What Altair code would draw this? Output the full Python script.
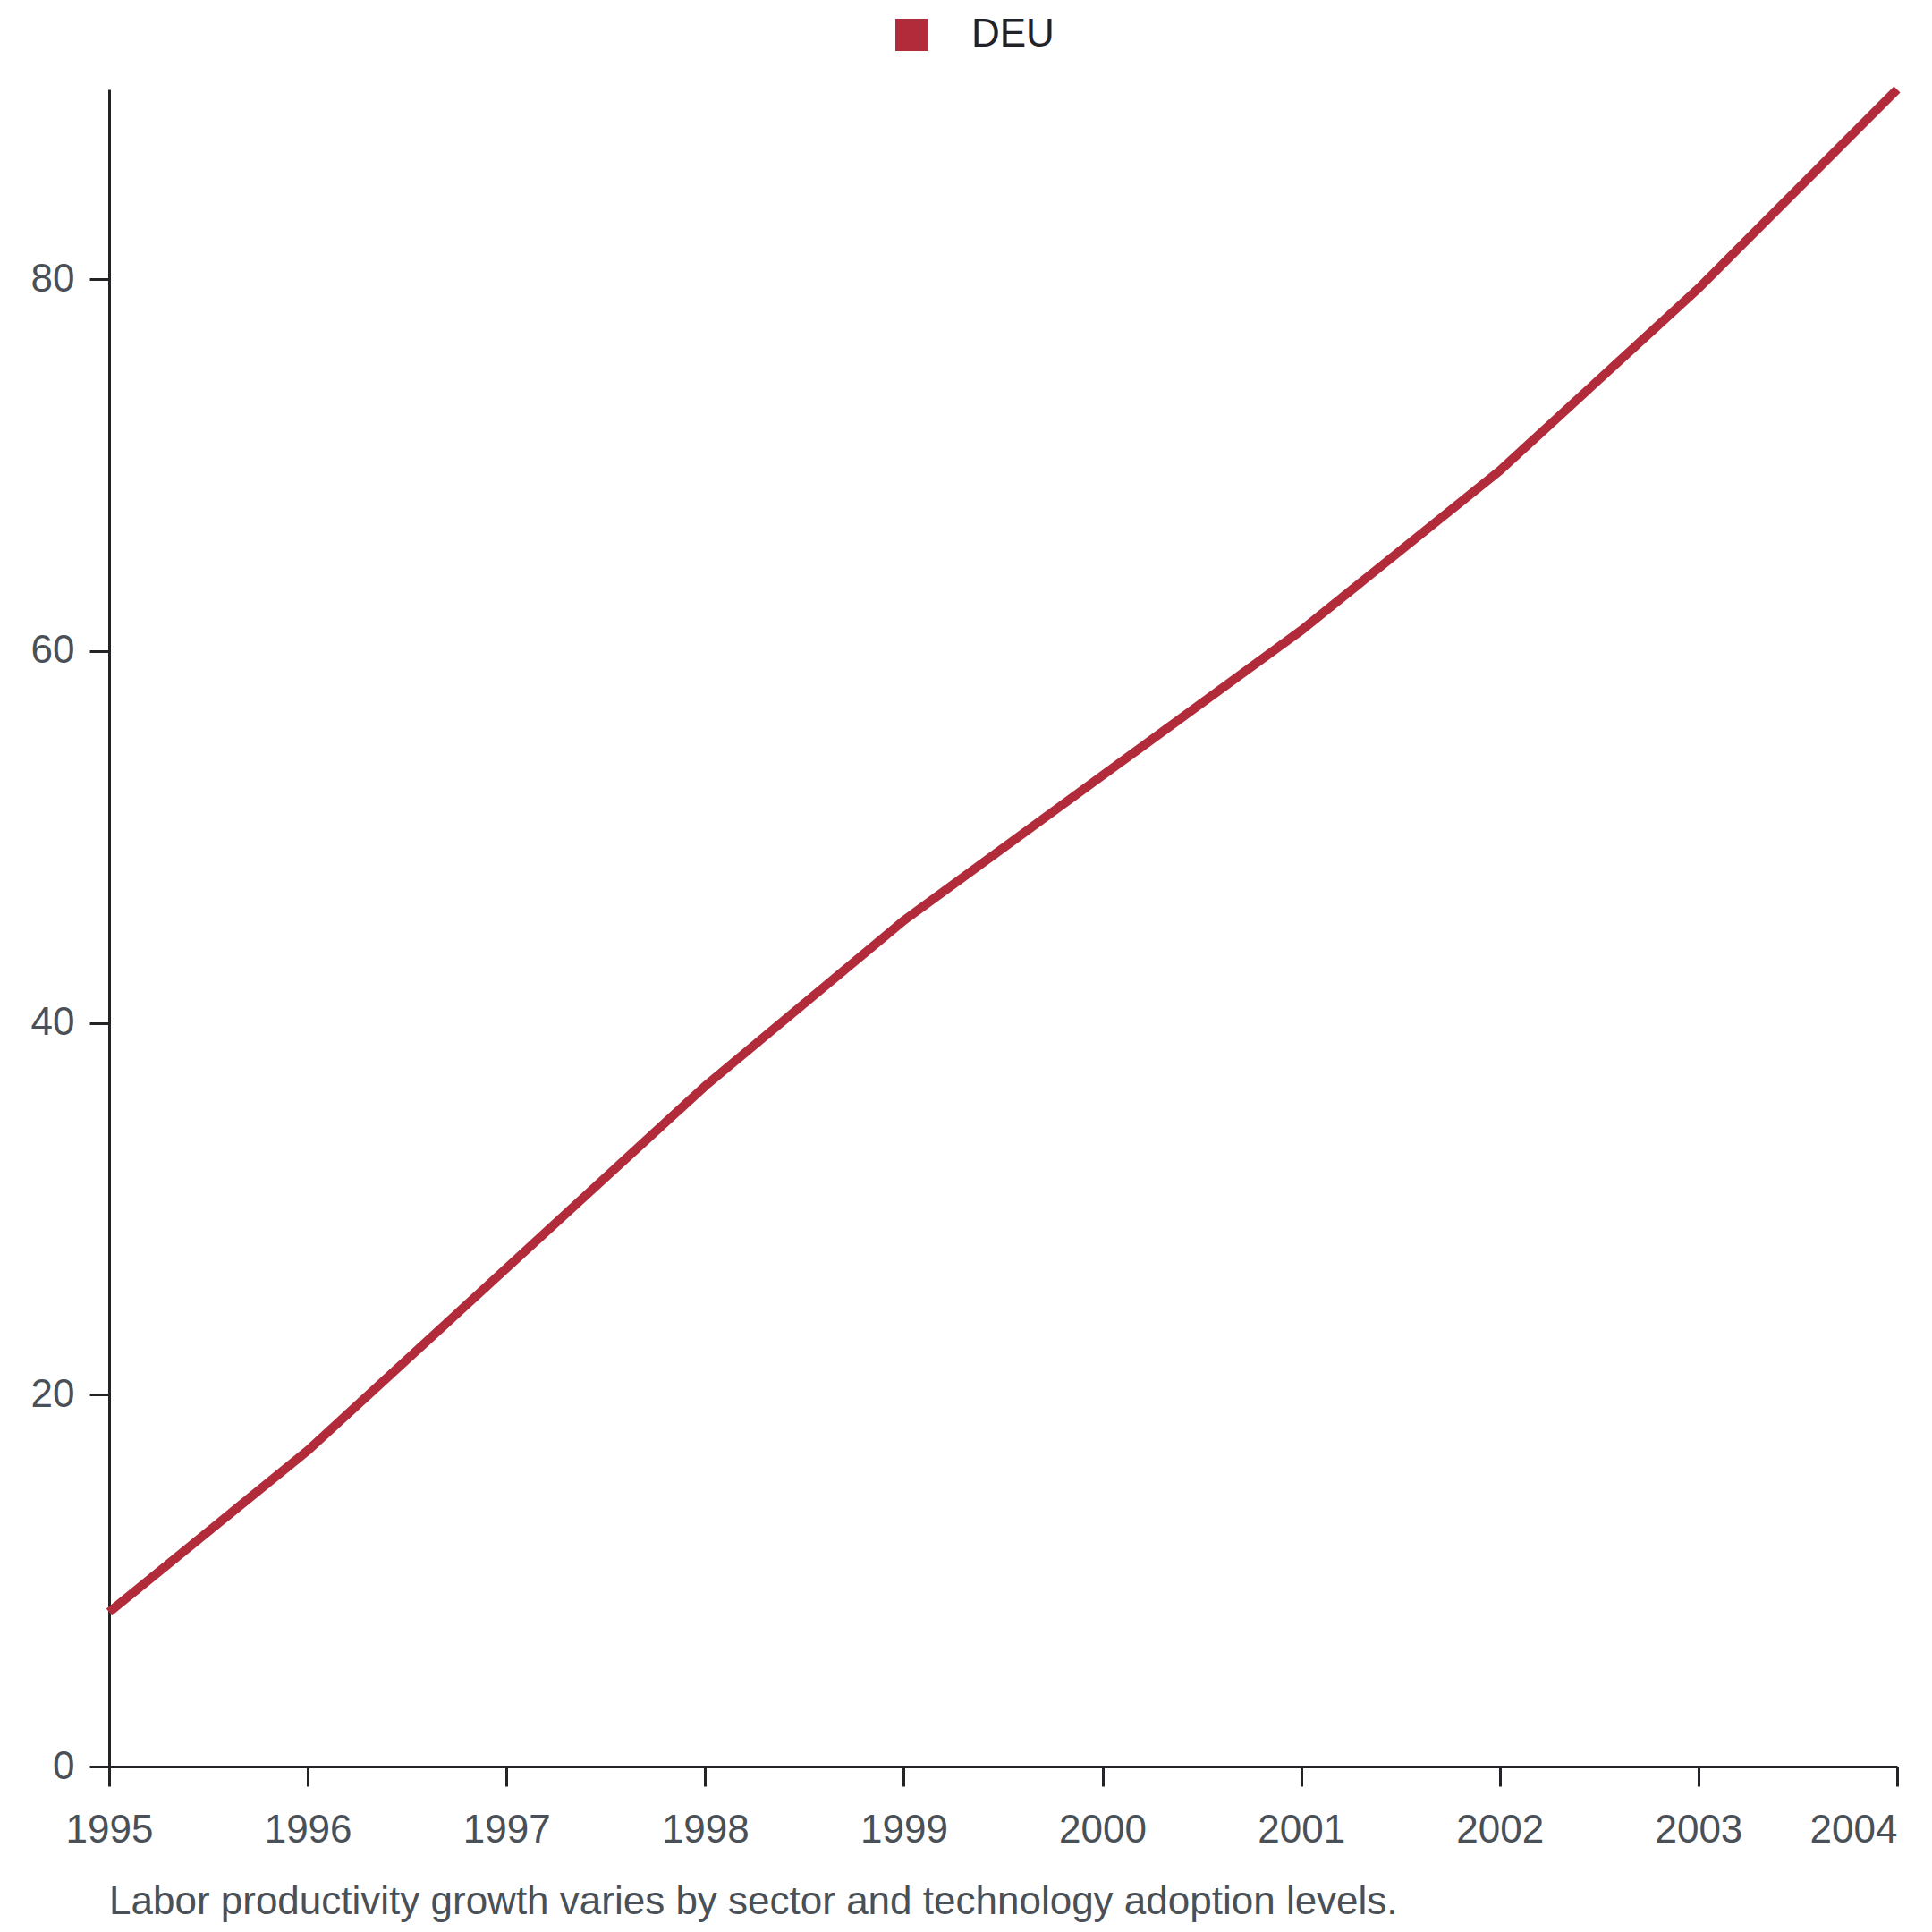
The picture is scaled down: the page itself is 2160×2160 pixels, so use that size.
import altair as alt
import pandas as pd

years = [1995, 1996, 1997, 1998, 1999, 2000, 2001, 2002, 2003, 2004]
values = [8.3, 17.0, 26.8, 36.6, 45.5, 53.3, 61.1, 69.7, 79.5, 90.2]
series = ["DEU"] * len(years)
y_ticks = [0, 20, 40, 60, 80]
caption = "Labor productivity growth varies by sector and technology adoption levels."

LINE_COLOR = "#b22b3a"
FONT = "Liberation Sans"
FS = 44

df = pd.DataFrame({"year": years, "value": values, "country": series})

chart = (
    alt.Chart(df)
    .mark_line(strokeWidth=10, color=LINE_COLOR)
    .encode(
        x=alt.X(
            "year:Q",
            scale=alt.Scale(domain=[years[0], years[-1]], nice=False, zero=False),
            axis=alt.Axis(
                title=None,
                values=years,
                format="d",
                grid=False,
                domainColor="#222428",
                domainWidth=3,
                tickColor="#222428",
                tickWidth=3,
                tickSize=22,
                labelFont=FONT,
                labelFontSize=FS,
                labelColor="#4a5057",
                labelPadding=27,
                labelAlign={"condition": {"test": "datum.value == 2004", "value": "right"}, "value": "center"},
            ),
        ),
        y=alt.Y(
            "value:Q",
            scale=alt.Scale(zero=True, nice=False),
            axis=alt.Axis(
                title=None,
                values=y_ticks,
                grid=False,
                domainColor="#222428",
                domainWidth=3,
                tickColor="#222428",
                tickWidth=3,
                tickSize=22,
                labelFont=FONT,
                labelFontSize=FS,
                labelColor="#4a5057",
                labelPadding=17,
            ),
        ),
        color=alt.Color(
            "country:N",
            scale=alt.Scale(domain=["DEU"], range=[LINE_COLOR]),
            legend=alt.Legend(
                title=None,
                orient="none",
                legendX=875,
                legendY=-83,
                symbolType="square",
                symbolSize=1296,
                symbolFillColor=LINE_COLOR,
                symbolStrokeColor=LINE_COLOR,
                symbolStrokeWidth=0,
                labelFont=FONT,
                labelFontSize=FS,
                labelColor="#1f2328",
                labelOffset=45,
                padding=0,
            ),
        ),
    )
    .properties(
        width=1999,
        height=1875,
        padding={"left": 114, "top": 92, "right": 30, "bottom": 177},
        autosize=alt.AutoSizeParams(type="none"),
        title=alt.TitleParams(
            text=caption,
            orient="bottom",
            anchor="start",
            frame="group",
            font=FONT,
            fontSize=FS,
            fontWeight="normal",
            color="#4a5057",
            offset=37,
        ),
    )
    .configure_view(stroke=None)
)

chart.save("out.html", embed_options={"renderer": "svg", "actions": False})
